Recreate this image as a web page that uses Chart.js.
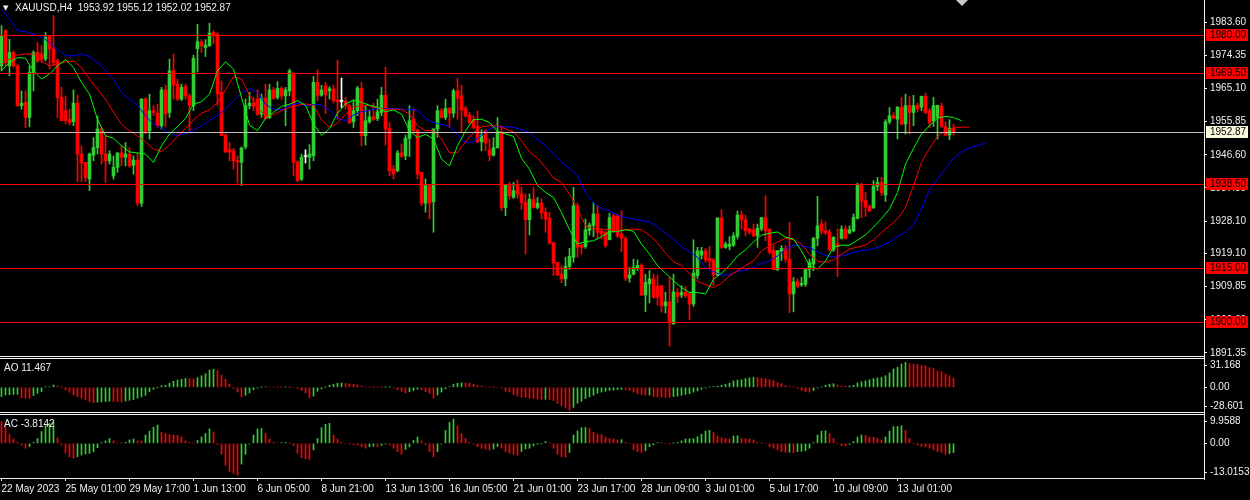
<!DOCTYPE html>
<html>
<head>
<meta charset="utf-8">
<title>XAUUSD,H4</title>
<script src="https://cdn.jsdelivr.net/npm/chart.js@4.4.1/dist/chart.umd.min.js"></script>
<style>
  html, body { margin: 0; padding: 0; background: #000; }
  #wrap { position: relative; width: 1250px; height: 500px; overflow: hidden; background: #000; }
  .pane { position: absolute; left: 0; width: 1250px; }
  .hline { position: absolute; left: 0; width: 1205px; height: 1px; background: #f4f4ec; }
  .vline { position: absolute; left: 1204px; top: 0; width: 1px; height: 480px; background: #f4f4ec; }
  .txt { position: absolute; color: #f0f0f0; font: 10px "Liberation Sans", Arial, sans-serif; line-height: 10px; white-space: pre; }
</style>
</head>
<body>
<div id="wrap">
  <div class="pane" style="top:0;height:362px"><canvas id="mainChart"></canvas></div>
  <div class="pane" style="top:353px;height:65px"><canvas id="aoChart"></canvas></div>
  <div class="pane" style="top:409px;height:91px"><canvas id="acChart"></canvas></div>
  <div class="hline" style="top:356px"></div>
  <div class="hline" style="top:358px"></div>
  <div class="hline" style="top:412px"></div>
  <div class="hline" style="top:414px"></div>
  <div class="vline"></div>
  <div class="txt" style="left:3px;top:3px;font-family:'DejaVu Sans';font-size:7px">▼</div>
  <div class="txt" id="title" style="left:15px;top:3px"></div>
  <div class="txt" id="aoTitle" style="left:4px;top:363px"></div>
  <div class="txt" id="acTitle" style="left:4px;top:419px"></div>
</div>
<script>
// XAUUSD H4 candles, 22 May - 14 Jul 2023
const open = [
  1971.4,1981.2,1971.4,1975.1,1971.4,1960.3,1961.2,1957.0,1969.6,1975.1,
  1974.7,1973.3,1979.6,1976.1,1972.8,1962.6,1958.9,1956.5,1955.8,1961.0,
  1946.8,1944.5,1939.8,1946.5,1948.6,1953.8,1946.8,1944.9,1940.7,1943.1,
  1947.1,1945.9,1946.8,1943.7,1945.1,1933.1,1962.1,1953.3,1958.9,1958.2,
  1954.7,1964.7,1958.4,1970.0,1966.3,1962.1,1965.6,1963.0,1960.3,1976.2,
  1978.1,1976.5,1977.0,1980.7,1980.2,1964.0,1952.1,1948.0,1947.7,1944.9,
  1944.5,1948.8,1960.3,1961.0,1962.1,1957.9,1962.4,1957.0,1964.7,1962.6,
  1965.1,1963.0,1964.4,1969.1,1944.6,1939.8,1946.1,1945.9,1946.3,1966.8,
  1963.2,1965.8,1964.4,1964.9,1961.9,1961.5,1961.5,1960.3,1955.8,1958.9,
  1965.1,1951.9,1955.8,1957.2,1956.7,1958.4,1963.2,1953.9,1942.6,1942.1,
  1947.1,1946.3,1951.2,1956.5,1953.5,1941.7,1933.1,1938.0,1933.5,1953.8,
  1958.9,1957.0,1959.5,1958.2,1964.4,1963.0,1959.5,1957.7,1956.4,1954.5,
  1950.2,1953.3,1948.0,1946.5,1948.6,1953.0,1931.9,1938.2,1934.8,1938.2,
  1935.7,1933.3,1928.5,1934.2,1931.9,1933.1,1930.6,1928.9,1922.1,1916.6,
  1913.3,1912.0,1915.5,1918.0,1932.4,1921.4,1921.0,1925.5,1926.9,1930.1,
  1925.4,1925.0,1922.9,1929.6,1929.6,1924.5,1923.3,1912.2,1913.3,1915.0,
  1915.8,1907.5,1910.6,1912.0,1910.0,1910.1,1904.5,1905.6,1899.4,1908.2,
  1907.5,1908.4,1907.8,1905.0,1912.9,1918.6,1919.8,1917.7,1917.3,1913.1,
  1929.0,1920.8,1921.0,1921.4,1923.8,1929.8,1928.5,1925.9,1925.7,1924.0,
  1925.9,1929.1,1925.9,1919.9,1914.6,1919.6,1920.5,1917.5,1907.8,1911.2,
  1910.3,1910.5,1914.6,1916.1,1923.3,1927.3,1925.4,1925.1,1920.1,1921.8,
  1923.3,1925.9,1924.8,1925.4,1928.9,1938.2,1933.9,1932.2,1931.9,1937.8,
  1938.9,1935.4,1955.8,1957.5,1956.5,1959.8,1955.2,1960.3,1958.4,1960.4,
  1959.9,1962.9,1958.9,1956.1,1957.0,1960.1,1954.5,1952.1,1953.92
];
const high = [
  1982.6,1981.5,1978.8,1975.6,1971.9,1964.4,1964.4,1971.4,1975.6,1977.9,
  1977.0,1980.7,1979.8,1985.4,1973.3,1965.4,1963.0,1959.3,1964.7,1963.2,
  1949.1,1944.5,1947.1,1951.4,1957.3,1954.2,1951.9,1947.7,1946.3,1947.2,
  1949.1,1950.0,1948.6,1946.3,1947.1,1962.3,1962.6,1963.5,1960.4,1960.7,
  1965.4,1966.0,1973.3,1974.7,1967.7,1966.3,1966.3,1963.5,1974.4,1983.0,
  1978.7,1978.7,1983.3,1981.2,1980.7,1967.2,1952.4,1950.0,1948.4,1946.3,
  1948.8,1962.1,1964.0,1962.6,1964.7,1963.5,1966.3,1966.3,1965.4,1967.0,
  1965.6,1965.4,1970.5,1969.5,1944.9,1946.8,1948.0,1949.4,1968.4,1970.3,
  1966.0,1966.8,1965.6,1966.0,1973.0,1968.0,1962.6,1960.7,1961.7,1965.7,
  1966.8,1960.3,1958.9,1961.0,1962.1,1965.4,1971.0,1955.6,1943.6,1947.8,
  1949.6,1952.1,1960.3,1959.5,1953.8,1941.7,1939.9,1938.2,1953.8,1960.3,
  1959.5,1962.1,1959.8,1964.9,1967.9,1966.0,1960.1,1958.4,1957.5,1958.8,
  1953.6,1953.6,1951.0,1951.4,1957.0,1954.7,1938.2,1938.9,1938.9,1939.6,
  1937.5,1935.7,1935.7,1937.5,1934.7,1934.3,1931.8,1930.6,1922.3,1916.6,
  1915.7,1918.0,1920.5,1937.5,1933.2,1921.7,1928.7,1927.6,1933.3,1932.6,
  1925.9,1925.4,1930.3,1930.1,1930.1,1931.0,1923.8,1915.2,1917.5,1917.3,
  1916.2,1913.3,1914.3,1913.4,1913.1,1910.1,1908.3,1912.4,1913.3,1909.3,
  1910.1,1909.9,1908.2,1922.9,1920.8,1920.8,1920.5,1921.0,1917.7,1929.0,
  1931.3,1922.3,1923.8,1924.9,1930.9,1930.9,1929.8,1926.1,1927.3,1927.3,
  1929.1,1935.2,1925.9,1921.3,1919.9,1921.3,1921.3,1927.7,1912.4,1912.0,
  1912.4,1914.7,1917.5,1923.6,1935.0,1928.5,1927.9,1925.8,1923.8,1925.9,
  1926.8,1926.8,1926.8,1930.1,1938.7,1938.7,1936.1,1932.6,1939.4,1940.3,
  1940.3,1956.4,1959.8,1958.4,1960.1,1962.6,1963.5,1962.9,1963.2,1961.0,
  1963.0,1963.8,1959.4,1962.6,1960.4,1961.0,1955.8,1956.4,1955.12
];
const low = [
  1970.0,1971.4,1968.6,1971.0,1960.1,1959.3,1954.2,1954.4,1964.4,1972.3,
  1972.3,1972.8,1970.5,1971.4,1957.0,1956.1,1955.2,1954.9,1954.7,1939.1,
  1939.1,1939.1,1936.6,1944.9,1946.8,1944.0,1938.9,1944.0,1939.8,1941.7,
  1943.5,1943.5,1943.1,1941.2,1932.4,1932.2,1952.4,1951.0,1957.5,1954.2,
  1953.8,1954.5,1957.0,1962.1,1961.7,1961.7,1962.1,1953.3,1958.9,1969.7,
  1975.1,1974.0,1976.8,1977.5,1960.3,1951.9,1947.2,1944.9,1942.6,1938.7,
  1938.0,1948.2,1959.4,1958.9,1957.5,1957.0,1956.5,1956.7,1962.1,1962.1,
  1962.1,1954.7,1963.0,1940.7,1939.1,1939.4,1944.3,1942.6,1944.9,1961.7,
  1962.9,1958.0,1962.1,1961.0,1956.5,1959.8,1959.3,1955.2,1954.2,1957.5,
  1949.1,1949.3,1955.4,1956.1,1956.1,1957.5,1949.3,1940.7,1939.9,1941.9,
  1945.9,1945.2,1946.1,1953.0,1939.9,1932.4,1930.6,1928.7,1925.0,1951.5,
  1956.8,1956.4,1954.2,1957.0,1956.5,1952.8,1957.0,1955.2,1953.8,1950.0,
  1947.7,1947.7,1944.9,1946.2,1948.4,1931.0,1929.6,1934.2,1934.4,1934.4,
  1931.3,1918.9,1924.2,1931.7,1931.5,1928.7,1925.0,1921.7,1912.9,1912.9,
  1910.9,1910.1,1914.6,1916.6,1918.0,1918.9,1920.5,1924.2,1923.8,1923.1,
  1923.1,1920.8,1922.9,1925.0,1923.5,1919.6,1911.5,1911.0,1913.1,1914.3,
  1907.3,1902.9,1905.3,1906.6,1904.7,1902.7,1902.5,1893.2,1899.4,1905.4,
  1906.8,1906.8,1900.6,1904.3,1912.1,1917.5,1916.6,1914.7,1910.1,1912.9,
  1920.5,1920.5,1920.1,1921.0,1923.1,1925.9,1924.0,1924.5,1923.8,1920.8,
  1925.4,1922.6,1918.9,1914.6,1914.3,1917.1,1916.6,1902.6,1902.8,1909.6,
  1909.9,1909.9,1912.4,1914.3,1921.2,1924.5,1924.3,1919.8,1919.6,1912.7,
  1923.1,1923.1,1924.5,1925.1,1928.7,1929.1,1929.4,1930.7,1931.6,1936.6,
  1935.2,1933.6,1955.2,1956.6,1951.0,1954.9,1952.4,1952.4,1954.7,1958.6,
  1958.9,1958.0,1954.2,1954.5,1951.0,1954.2,1951.9,1950.8,1952.02
];
const close = [
  1979.8,1972.3,1975.1,1971.4,1960.3,1961.0,1957.0,1969.6,1975.1,1972.8,
  1973.3,1979.3,1976.1,1972.3,1962.6,1956.1,1956.1,1955.6,1961.0,1946.8,
  1944.3,1940.3,1946.8,1948.6,1953.8,1946.8,1944.9,1946.8,1943.1,1947.1,
  1945.9,1946.8,1943.5,1945.1,1933.1,1962.1,1952.8,1958.9,1958.4,1954.7,
  1964.7,1958.0,1970.0,1966.0,1962.1,1965.4,1963.0,1960.3,1973.5,1978.1,
  1977.0,1977.2,1980.5,1979.8,1963.5,1951.9,1947.4,1947.4,1944.9,1944.6,
  1948.5,1960.3,1961.0,1960.1,1957.9,1962.4,1956.7,1964.7,1962.3,1965.1,
  1963.0,1964.7,1970.0,1944.5,1939.4,1945.9,1946.1,1946.8,1966.8,1963.2,
  1964.7,1963.4,1965.0,1961.7,1961.4,1961.5,1960.3,1955.6,1958.9,1965.2,
  1951.9,1956.1,1957.2,1956.5,1958.6,1963.2,1953.8,1942.1,1941.2,1947.1,
  1946.2,1951.2,1956.1,1953.3,1941.2,1933.1,1938.0,1933.1,1953.8,1958.9,
  1957.0,1959.5,1958.2,1964.4,1962.3,1959.1,1957.5,1955.5,1954.2,1950.2,
  1952.1,1949.9,1946.5,1948.6,1953.0,1931.9,1938.2,1935.2,1936.6,1935.7,
  1933.3,1928.5,1934.2,1931.9,1933.1,1930.4,1928.7,1922.0,1916.4,1913.1,
  1912.0,1915.5,1918.3,1932.4,1920.8,1920.8,1925.7,1927.0,1930.1,1925.0,
  1924.5,1921.3,1929.1,1925.2,1924.0,1923.3,1912.2,1913.1,1915.2,1915.8,
  1907.5,1911.0,1912.0,1906.9,1906.9,1904.5,1905.6,1899.7,1908.4,1907.1,
  1908.2,1907.3,1905.0,1913.6,1919.8,1919.8,1917.3,1917.0,1913.1,1929.0,
  1920.8,1921.7,1921.7,1924.0,1929.8,1928.5,1925.4,1925.0,1924.0,1926.1,
  1929.1,1925.4,1919.4,1914.6,1919.9,1920.5,1917.5,1907.8,1911.2,1909.9,
  1910.8,1914.6,1916.6,1923.3,1926.8,1925.4,1924.8,1920.1,1923.6,1921.0,
  1925.9,1923.3,1925.7,1929.1,1938.2,1933.6,1932.0,1931.0,1937.8,1938.9,
  1936.0,1955.8,1957.5,1956.8,1959.8,1955.2,1960.3,1958.4,1960.3,1959.4,
  1962.9,1958.4,1955.6,1960.3,1960.4,1954.5,1952.1,1954.0,1952.87
];

// Alligator lines, one value every lineStep bars (already shifted)
const lineStep = 2;
const lips = [
  1970.0,1972.3,1973.7,1973.5,1970.0,1967.7,1969.1,1971.4,1973.1,1970.9,
  1966.8,1963.5,1956.5,1951.9,1951.2,1949.1,1947.4,1947.1,1946.8,1944.5,
  1949.1,1952.4,1954.5,1956.7,1960.7,1961.4,1963.5,1970.0,1972.5,1970.5,
  1962.6,1954.9,1953.3,1956.7,1958.4,1960.1,1960.7,1961.7,1960.4,1955.2,
  1952.0,1953.9,1958.2,1960.7,1961.9,1961.2,1960.4,1959.8,1958.6,1959.1,
  1957.9,1953.3,1951.4,1952.3,1951.0,1945.4,1943.5,1949.1,1953.3,1956.4,
  1956.5,1955.6,1953.1,1952.4,1951.7,1945.6,1942.6,1938.0,1936.1,1934.7,
  1930.5,1925.7,1921.7,1922.4,1922.6,1923.8,1925.1,1925.2,1925.7,1925.3,
  1921.7,1918.9,1915.7,1913.6,1911.5,1909.6,1908.2,1908.2,1907.8,1911.9,
  1913.6,1915.7,1918.4,1920.1,1922.3,1924.2,1924.7,1925.1,1923.6,1923.1,
  1919.8,1915.7,1914.7,1917.0,1920.8,1921.4,1921.4,1922.8,1924.3,1926.4,
  1928.8,1931.5,1936.1,1944.0,1948.4,1952.4,1954.7,1956.8,1957.3,1957.0,
  1956.1
];
const teeth = [
  1971.9,1973.3,1974.4,1974.7,1974.7,1972.8,1971.4,1971.9,1972.5,1972.8,
  1970.9,1967.7,1964.9,1962.1,1958.4,1955.1,1953.3,1951.9,1950.2,1948.2,
  1947.5,1949.3,1951.7,1953.9,1956.4,1958.2,1959.1,1961.2,1964.7,1968.4,
  1967.7,1963.2,1959.8,1957.3,1957.8,1958.9,1959.8,1960.4,1960.8,1960.4,
  1956.3,1954.2,1955.4,1957.9,1959.8,1960.4,1960.3,1959.7,1959.3,1959.3,
  1959.3,1957.9,1954.7,1953.3,1953.3,1951.0,1947.1,1947.3,1950.2,1952.8,
  1954.4,1954.7,1954.7,1953.8,1953.0,1950.5,1947.4,1945.6,1943.1,1940.1,
  1938.9,1935.6,1931.6,1926.8,1925.9,1925.9,1925.7,1925.5,1925.7,1925.9,
  1925.7,1924.2,1922.0,1919.2,1916.8,1915.7,1913.4,1911.3,1910.4,1909.6,
  1910.8,1912.9,1914.3,1915.7,1917.0,1919.8,1921.2,1922.3,1923.3,1922.9,
  1921.7,1918.9,1917.0,1916.6,1917.3,1918.9,1920.3,1920.9,1921.4,1922.9,
  1924.9,1926.8,1928.7,1931.9,1938.0,1944.5,1948.4,1951.7,1953.3,1954.1,
  1954.3,1954.3
];
const jaw = [
  1987.2,1984.4,1981.2,1980.9,1980.2,1979.6,1977.9,1975.9,1974.2,1974.2,
  1974.7,1974.0,1972.3,1970.0,1967.7,1964.0,1962.1,1960.3,1957.5,1955.1,
  1954.0,1952.6,1951.9,1952.6,1953.4,1954.7,1956.3,1957.5,1959.3,1961.7,
  1963.8,1965.1,1964.0,1960.7,1959.3,1959.1,1960.4,1961.0,1960.3,1960.6,
  1960.4,1959.1,1956.7,1956.1,1957.7,1958.6,1959.1,1959.5,1959.5,1959.5,
  1959.3,1959.3,1959.0,1956.7,1955.6,1955.0,1954.7,1952.1,1950.0,1950.2,
  1952.0,1953.9,1954.5,1954.4,1954.2,1953.6,1952.8,1950.8,1949.1,1946.7,
  1944.5,1942.8,1940.7,1936.1,1933.1,1931.6,1930.9,1929.8,1929.1,1928.7,
  1928.2,1928.0,1926.5,1924.8,1922.9,1921.0,1919.6,1918.0,1915.0,1914.0,
  1913.0,1913.3,1914.0,1914.5,1915.2,1916.4,1917.0,1918.4,1920.3,1921.4,
  1921.2,1920.7,1919.6,1918.6,1918.1,1918.4,1919.0,1919.7,1920.0,1920.4,
  1921.2,1922.3,1923.8,1925.1,1927.0,1931.5,1936.8,1939.8,1942.8,1945.6,
  1947.4,1948.6,1949.1,1949.9
];

// Awesome Oscillator and Accelerator histograms
const ao = [
  -11.6,-9.5,-9.2,-9.0,-8.8,-12.9,-13.7,-13.9,-10.4,-7.5,
  -5.4,0.4,0.8,2.9,1.5,0.1,-3.3,-6.2,-9.5,-11.6,
  -13.7,-15.8,-17.8,-19.1,-18.6,-18.2,-17.8,-17.4,-17.6,-17.9,
  -18.1,-17.2,-16.2,-15.2,-13.6,-12.0,-10.0,-5.5,-2.5,-0.2,
  2.0,2.5,5.0,7.5,9.0,10.0,11.0,10.8,10.6,12.0,
  14.5,17.0,21.5,22.5,21.0,15.0,10.0,4.0,-1.5,-6.0,
  -12.0,-10.0,-7.0,-3.0,-1.0,0.3,0.6,0.5,0.4,0.3,
  0.2,0.35,0.1,0.0,-1.5,-4.0,-7.0,-13.0,-11.0,-5.0,
  -2.0,0.2,2.5,4.0,5.0,5.3,4.8,4.2,3.6,3.0,
  1.5,0.5,0.3,0.2,0.1,0.05,0.2,0.35,-1.0,-3.0,
  -5.0,-7.0,-5.5,-4.0,-2.5,-3.0,-5.5,-7.5,-13.5,-9.5,
  -6.0,-2.0,0.5,4.0,5.0,5.5,5.4,5.0,4.0,2.5,
  1.5,0.5,0.2,0.1,0.0,-1.0,-5.0,-6.0,-9.0,-11.0,
  -12.3,-12.6,-13.5,-14.0,-14.8,-15.2,-15.0,-15.5,-16.5,-20.0,
  -23.0,-26.0,-28.601,-25.0,-20.0,-17.5,-14.0,-12.0,-10.0,-7.5,
  -6.0,-5.0,-4.0,-3.5,-3.0,-2.5,-3.0,-4.0,-6.0,-8.0,
  -9.0,-10.0,-9.6,-11.8,-12.0,-12.2,-12.5,-12.7,-11.5,-11.0,
  -10.0,-9.0,-8.0,-6.0,-4.5,-2.5,-1.0,0.5,1.0,1.5,
  2.5,4.0,5.0,8.0,9.0,9.5,11.0,11.8,12.2,12.0,
  11.2,10.8,9.5,8.5,6.0,4.5,2.0,1.0,0.5,-1.5,
  -4.0,-5.5,-6.0,-4.0,-1.0,0.5,2.5,4.0,4.5,3.0,
  1.6,1.4,1.6,2.5,5.5,7.0,8.0,9.5,11.0,11.8,
  12.2,14.5,18.0,23.0,25.0,29.0,31.168,30.0,29.0,28.5,
  27.2,26.8,24.5,23.5,20.5,19.5,16.5,14.5,11.467
];
const ac = [
  8.9,6.8,3.7,1.8,0.4,-0.7,-2.0,-1.4,0.4,2.0,
  4.8,7.2,8.2,8.6,2.3,-0.7,-4.0,-5.5,-6.1,-5.5,
  -4.8,-4.4,-4.1,-3.4,-1.8,0.4,1.0,2.0,1.0,0.1,
  0.05,0.4,1.4,1.8,1.0,0.9,3.4,5.0,6.6,7.5,
  4.6,4.0,3.6,3.4,3.3,2.7,1.0,0.4,0.1,1.2,
  2.6,4.0,5.9,4.6,-0.5,-4.5,-9.0,-11.5,-12.3,-13.0153,
  -8.5,-4.5,-0.3,3.4,5.9,6.1,4.1,1.8,0.4,0.2,
  0.3,0.35,0.1,-0.8,-4.1,-5.9,-6.3,-6.6,-2.7,2.0,
  6.4,7.8,8.2,3.4,1.8,0.4,0.0,-0.3,-0.5,-0.7,
  -1.4,-2.0,-1.4,-1.2,-1.4,-0.8,-0.3,-0.7,-2.0,-3.4,
  -4.5,-2.5,-1.4,1.2,2.6,1.0,-0.6,-3.4,-5.5,-3.4,
  -0.3,5.3,8.6,9.9588,7.2,4.0,2.0,0.4,-0.3,-1.4,
  -2.0,-2.3,-2.7,-2.3,-1.4,-2.0,-3.4,-4.1,-4.5,-4.8,
  -3.4,-2.3,-2.0,-1.0,-0.4,-0.1,0.7,0.3,-2.0,-4.5,
  -5.5,-5.6,-3.7,3.4,5.1,6.4,6.5,6.2,4.6,3.7,
  3.6,2.6,2.0,1.8,1.4,1.5,0.4,0.0,-2.7,-3.4,
  -3.7,-3.0,-1.4,-0.7,0.3,0.1,0.0,-0.1,0.05,0.4,
  1.0,1.8,1.85,1.9,2.7,3.7,5.0,5.3,4.4,3.0,
  2.3,2.0,1.8,3.0,3.1,2.0,1.95,1.8,1.4,0.4,
  0.1,0.0,-1.4,-2.0,-2.7,-3.4,-3.7,-3.6,-3.8,-3.4,
  -3.3,-3.0,-2.0,0.4,3.4,5.0,5.1,4.1,2.0,0.0,
  -1.0,-1.05,-0.4,0.7,2.6,3.4,3.3,2.6,2.5,2.0,
  1.4,2.6,5.0,6.8,6.9,7.2,5.3,2.0,0.0,-0.7,
  -1.4,-1.5,-2.0,-2.7,-3.4,-3.7,-4.5,-4.2,-3.8142
];
const aoBefore = -12.5;   // bar just left of the window, sets first bar colour
const acBefore = 10.0;

const priceTicks = [1983.60, 1974.35, 1965.10, 1955.85, 1946.60, 1937.35, 1928.10, 1919.10, 1909.85, 1900.60, 1891.35];
const levelLines = [1980.00, 1969.50, 1938.50, 1915.00, 1900.00];
const aoTickText = ['31.168', '0.00', '-28.601'];
const acTickText = ['9.9588', '0.00', '-13.0153'];
const xTickLabels = ['22 May 2023', '25 May 01:00', '29 May 17:00', '1 Jun 13:00', '6 Jun 05:00', '8 Jun 21:00',
  '13 Jun 13:00', '16 Jun 05:00', '21 Jun 01:00', '23 Jun 17:00', '28 Jun 09:00', '3 Jul 01:00',
  '5 Jul 17:00', '10 Jul 09:00', '13 Jul 01:00'];
const xTickStep = 16;

const GREEN = '#32cd32', RED = '#ff0000', AXIS = '#f0f0f0';
const X_MIN = -0.375, X_MAX = 300.625; // 4px per bar over a 1204px plot
const AXIS_W = 46;
const last = close.length - 1;

Chart.defaults.font.family = '"Liberation Sans", Arial, sans-serif';
Chart.defaults.font.size = 10;
Chart.defaults.color = AXIS;

document.getElementById('title').textContent = 'XAUUSD,H4  ' +
  [open[last], high[last], low[last], close[last]].map(v => v.toFixed(2)).join(' ');
document.getElementById('aoTitle').textContent = 'AO ' + ao[ao.length - 1];
document.getElementById('acTitle').textContent = 'AC ' + ac[ac.length - 1];

function candleColor(i) {
  if (close[i] > open[i]) return GREEN;
  if (close[i] < open[i]) return RED;
  return '#ffffff';
}

function histColors(values, before) {
  let prev = before, up = true;
  return values.map(v => {
    if (v > prev) up = true;
    else if (v < prev) up = false;
    prev = v;
    return up ? GREEN : RED;
  });
}

function linePoints(values) {
  return values.map((v, j) => ({ x: j * lineStep, y: v }));
}

// MT4 pins a sub-window's max/min labels just inside the pane edges
function edgeTicks(min, max, paneH) {
  const upp = (max - min) / paneH;
  return [max - 6.5 * upp, 0, min + 6 * upp];
}

function hiddenX() {
  return { type: 'linear', min: X_MIN, max: X_MAX, display: false, offset: false, grid: { offset: false } };
}

function rightAxis(min, max, tickValues, tickText) {
  return {
    position: 'right', min: min, max: max,
    afterFit(s) { s.width = AXIS_W; s.paddingTop = 0; s.paddingBottom = 0; },
    afterBuildTicks(s) { s.ticks = tickValues.map(v => ({ value: v })); },
    border: { display: false },
    grid: { drawOnChartArea: false, drawTicks: true, tickLength: 3, color: AXIS },
    ticks: { autoSkip: false, padding: 3, color: AXIS, callback: (v, i) => tickText[i] }
  };
}

const common = {
  responsive: true,
  maintainAspectRatio: false,
  animation: false,
  events: [],
  plugins: { legend: { display: false }, tooltip: { enabled: false } }
};

const levelsPlugin = {
  id: 'levels',
  afterDatasetsDraw(chart) {
    const { ctx, chartArea, scales } = chart;
    ctx.save();
    ctx.lineWidth = 1;
    const hline = (v, color) => {
      const py = Math.round(scales.y.getPixelForValue(v)) + 0.5;
      ctx.strokeStyle = color;
      ctx.beginPath();
      ctx.moveTo(chartArea.left, py);
      ctx.lineTo(chartArea.right, py);
      ctx.stroke();
    };
    levelLines.forEach(v => hline(v, RED));
    hline(close[last], '#c0c0c0');
    ctx.restore();
  },
  afterDraw(chart) {
    const { ctx, chartArea, scales } = chart;
    ctx.save();
    ctx.font = '10px "Liberation Sans", Arial, sans-serif';
    ctx.textBaseline = 'middle';
    const tag = (v, bg) => {
      const py = Math.round(scales.y.getPixelForValue(v));
      ctx.fillStyle = bg;
      ctx.fillRect(chartArea.right + 2, py - 6, 42, 12);
      ctx.fillStyle = '#000';
      ctx.fillText(v.toFixed(2), chartArea.right + 6, py + 0.5);
    };
    levelLines.forEach(v => tag(v, RED));
    tag(close[last], '#f8f8dc');
    // chart shift marker
    ctx.fillStyle = '#c8c8c8';
    ctx.beginPath();
    ctx.moveTo(956, 0);
    ctx.lineTo(968, 0);
    ctx.lineTo(962, 6);
    ctx.closePath();
    ctx.fill();
    ctx.restore();
  }
};

new Chart(document.getElementById('mainChart'), {
  type: 'bar',
  data: {
    datasets: [
      { type: 'line', data: linePoints(lips), borderColor: '#00ff00', borderWidth: 1, pointRadius: 0, tension: 0 },
      { type: 'line', data: linePoints(teeth), borderColor: '#ff0000', borderWidth: 1, pointRadius: 0, tension: 0 },
      { type: 'line', data: linePoints(jaw), borderColor: '#0000ff', borderWidth: 1, pointRadius: 0, tension: 0 },
      {
        data: open.map((o, i) => ({ x: i, y: [o, close[i]] })),
        backgroundColor: open.map((o, i) => candleColor(i)),
        barThickness: 3, minBarLength: 1, grouped: false, borderWidth: 0
      },
      {
        data: low.map((l, i) => ({ x: i, y: [l, high[i]] })),
        backgroundColor: open.map((o, i) => candleColor(i)),
        barThickness: 1, grouped: false, borderWidth: 0
      }
    ]
  },
  options: Object.assign({}, common, {
    layout: { autoPadding: false, padding: { top: 0, bottom: 6, left: 0, right: 0 } },
    scales: {
      x: hiddenX(),
      y: rightAxis(1890.5, 1989.75, priceTicks, priceTicks.map(v => v.toFixed(2)))
    }
  }),
  plugins: [levelsPlugin]
});

new Chart(document.getElementById('aoChart'), {
  type: 'bar',
  data: {
    datasets: [{
      data: ao.map((v, i) => ({ x: i, y: v })),
      backgroundColor: histColors(ao, aoBefore),
      barThickness: 1, grouped: false, borderWidth: 0
    }]
  },
  options: Object.assign({}, common, {
    layout: { autoPadding: false, padding: { top: 6, bottom: 6, left: 0, right: 0 } },
    scales: { x: hiddenX(), y: rightAxis(-30.8, 35.3, edgeTicks(-30.8, 35.3, 53), aoTickText) }
  })
});

new Chart(document.getElementById('acChart'), {
  type: 'bar',
  data: {
    datasets: [{
      data: ac.map((v, i) => ({ x: i, y: v })),
      backgroundColor: histColors(ac, acBefore),
      barThickness: 1, grouped: false, borderWidth: 0
    }]
  },
  options: Object.assign({}, common, {
    layout: { autoPadding: false, padding: { top: 6, bottom: 0, left: 0, right: 0 } },
    scales: {
      x: {
        type: 'linear', min: X_MIN, max: X_MAX, offset: false,
        afterFit(s) { s.height = 22; s.paddingLeft = 0; s.paddingRight = 0; },
        afterBuildTicks(s) { s.ticks = xTickLabels.map((t, i) => ({ value: i * xTickStep })); },
        border: { display: true, color: AXIS },
        grid: { drawOnChartArea: false, drawTicks: true, tickLength: 3, color: AXIS, offset: false },
        ticks: { autoSkip: false, maxRotation: 0, align: 'start', padding: 2, color: AXIS,
                 callback: (v, i) => xTickLabels[i] }
      },
      y: rightAxis(-14.2, 11.6, edgeTicks(-14.2, 11.6, 63), acTickText)
    }
  })
});
</script>
</body>
</html>
